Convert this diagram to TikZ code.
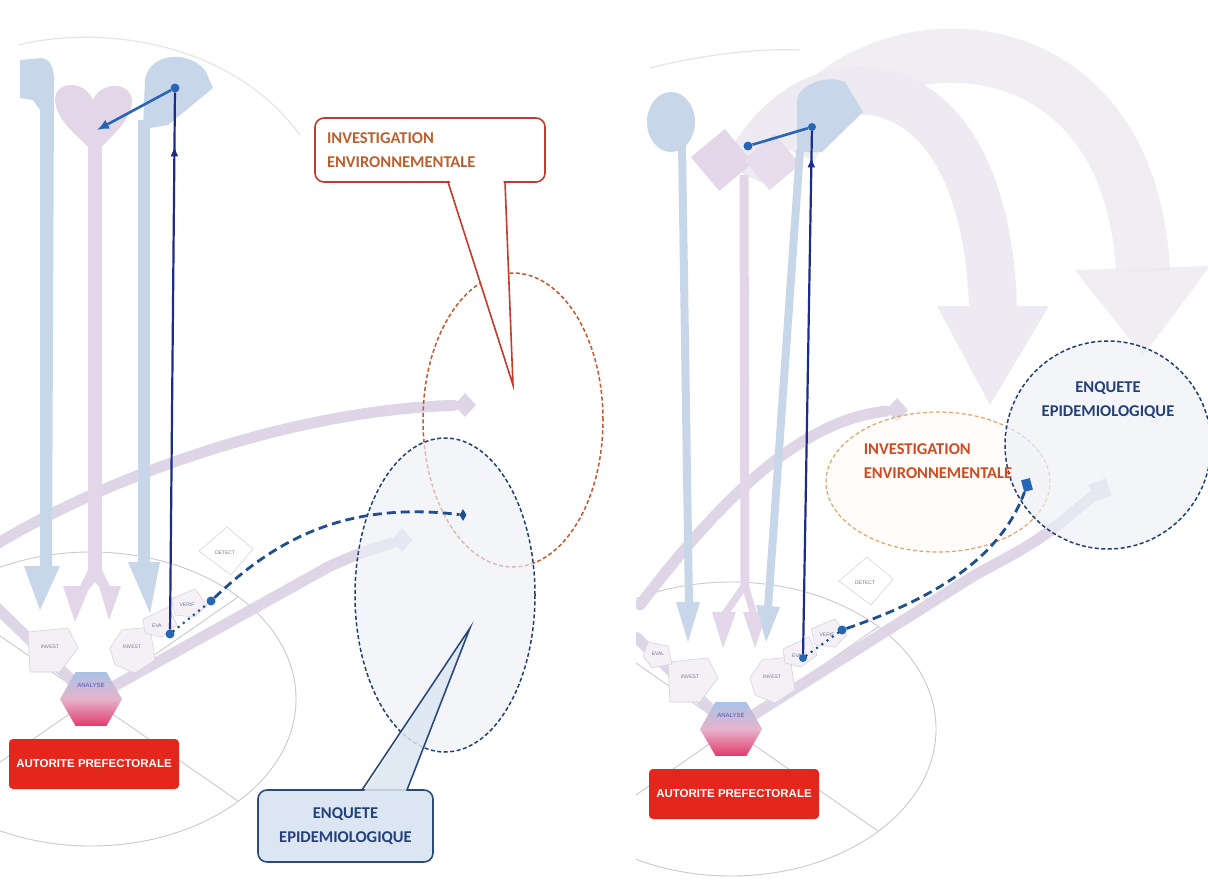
\documentclass[tikz,border=0pt]{standalone}
\usepackage{fontspec}
\setmainfont{Carlito}
\newfontfamily\arialf{Liberation Sans}
\usetikzlibrary{shapes.geometric,arrows.meta,calc,decorations.markings}
\definecolor{paleblue}{HTML}{C8D6EA}
\definecolor{palepink}{HTML}{E3D6E8}
\definecolor{bandpink}{HTML}{DED5E6}
\definecolor{bigarccol}{HTML}{EEEAF2}
\definecolor{tilefill}{HTML}{F4F0F6}
\definecolor{tileline}{HTML}{D8D2DF}
\definecolor{wheelgray}{HTML}{C9C9CE}
\definecolor{hexblue}{HTML}{A9C3E6}
\definecolor{hexpink}{HTML}{E6B3CC}
\definecolor{hexred}{HTML}{E23B6C}
\definecolor{redbox}{HTML}{E5261C}
\definecolor{navyline}{HTML}{1C2C8A}
\definecolor{dotblue}{HTML}{2766B4}
\definecolor{dashblue}{HTML}{1F4F8F}
\definecolor{orangedash}{HTML}{C8552C}
\definecolor{orangedashlight}{HTML}{E0A46E}
\definecolor{bluedash}{HTML}{22406F}
\definecolor{calloutred}{HTML}{C53A2A}
\definecolor{calloutblue}{HTML}{2C4B7D}
\definecolor{calloutfill}{HTML}{DCE6F2}
\definecolor{textorange}{HTML}{BE5F2E}
\definecolor{textorangeb}{HTML}{D24A1F}
\definecolor{textblue}{HTML}{23407A}
\definecolor{ellfill}{HTML}{EDF1F7}
\definecolor{labelgray}{HTML}{6F7590}

\newcommand\wheelback[3]{%
\begin{scope}[shift={(#2,#3)}]
\node[wheelell] (#1wh) at (0,0) {};
\coordinate (#1c) at (0,0);
\coordinate (#1ne) at (147,-102);
\coordinate (#1se) at (147,102);
\coordinate (#1sw) at (-147,102);
\coordinate (#1nw) at (-147,-102);
\draw[wheelline] (#1nw) -- (#1se);
\draw[wheelline] (#1ne) -- (#1sw);
\coordinate (#1ul) at (-95,-92);
\draw[paleband] (#1c) -- (#1ul);
\end{scope}}

\newcommand\wheelfront[3]{%
\begin{scope}[shift={(#2,#3)}]
\draw[tileshape] (-63,-67) -- (-23,-71) -- (-13,-51) -- (-31,-27) -- (-61,-27) -- cycle;
\node[tinylabel] (#1inva) at (-41,-52) {INVEST};
\draw[tileshape] (19,-51) -- (31,-69) -- (59,-72) -- (64,-39) -- (44,-26) -- (24,-34) -- cycle;
\node[tinylabel] (#1invb) at (41,-52) {INVEST};
\draw[tileshape] (52,-80) -- (78,-92) -- (86,-74) -- (70,-62) -- (54,-66) -- cycle;
\node[tinylabel] (#1eva) at (66,-73) {EVA};
\draw[tileshape] (80,-100) -- (104,-110) -- (116,-94) -- (104,-82) -- (84,-84) -- cycle;
\node[tinylabel] (#1ver) at (96,-94) {VERIF};
\draw[tileshape, fill=white] (108,-148) -- (136,-172) -- (162,-150) -- (140,-124) -- cycle;
\node[tinylabel] (#1det) at (134,-146) {DETECT};
\node[hexa] (#1hex) at (0,0) {};
\node[anlabel] (#1anl) at (0,-14) {ANALYSE};
\node[autorite] (#1aut) at (3,65) {AUTORITE PREFECTORALE};
\end{scope}}

\begin{document}
\begin{tikzpicture}[x=1pt,y=-1pt,
  wheelell/.style={ellipse, draw=wheelgray, line width=0.9pt, minimum width=410pt, minimum height=294pt, inner sep=0pt},
  wheelline/.style={draw=wheelgray, line width=0.9pt},
  paleband/.style={draw=bandpink, line width=11pt, line cap=round},
  tileshape/.style={fill=tilefill, draw=tileline, line width=0.6pt},
  tinylabel/.style={font=\arialf\fontsize{5}{6}\selectfont, text=labelgray, inner sep=0pt},
  anlabel/.style={font=\arialf\fontsize{6}{7}\selectfont, text=labelgray!70!blue, inner sep=0pt},
  hexa/.style={regular polygon, regular polygon sides=6, minimum size=62pt, inner sep=0pt, top color=hexblue, bottom color=hexred, middle color=hexpink},
  autorite/.style={rectangle, rounded corners=4pt, fill=redbox, text=white, font=\arialf\bfseries\fontsize{11.5}{13}\selectfont, minimum width=170pt, minimum height=50pt, inner sep=0pt},
  navyl/.style={draw=navyline, line width=2.2pt},
  navyarrow/.style={navyl, postaction={decorate}, decoration={markings, mark=at position #1 with {\arrow{Latex[length=10pt,width=8pt]}}}},
  blueseg/.style={draw=dotblue, line width=2.6pt},
  dotnode/.style={circle, fill=dotblue, inner sep=0pt, minimum size=9pt},
  dotline/.style={draw=dashblue, line width=3pt, line cap=round, dash pattern=on 0pt off 6.5pt},
  dashline/.style={draw=dashblue, line width=2.8pt, dash pattern=on 9pt off 5pt},
  envell/.style={ellipse, draw=orangedash, line width=1.5pt, dash pattern=on 4pt off 2.5pt, inner sep=0pt},
  epiell/.style={ellipse, draw=bluedash, line width=1.5pt, dash pattern=on 4pt off 2.5pt, inner sep=0pt, fill=ellfill, fill opacity=0.65},
  calltext/.style={font=\bfseries\fontsize{16.5}{24}\selectfont},
  rcallout/.style={calltext, draw=calloutred, line width=1.6pt, rounded corners=9pt, fill=white, text width=206pt, align=left, minimum height=64pt, inner xsep=12pt, text=textorange},
  bcallout/.style={calltext, draw=calloutblue, line width=1.6pt, rounded corners=9pt, fill=calloutfill, align=center, minimum width=175pt, minimum height=72pt, text=textblue},
  pinkhead/.style={diamond, fill=bandpink, inner sep=0pt, minimum width=22pt, minimum height=24pt}
]
\useasboundingbox[fill=white] (0,0) rectangle (1208,881);

% ================= LEFT PANEL =================
\draw[gray!20, line width=1.2pt] (18,45) .. controls (100,25) and (230,40) .. (300,135);
\wheelback{L}{91}{699}

\node[pinkhead] (Ld1) at (465,405) {};
\coordinate (Lp1s) at (-5,545);
\draw[paleband] (Lp1s) .. controls (120,470) and (300,410) .. (Ld1);
\node[pinkhead] (Ld2) at (402,540) {};
\coordinate (Lp2m) at (330,566);
\draw[paleband] (Lc) -- (Lp2m) .. controls (360,553) .. (Ld2);

% columns
\fill[paleblue] (20,60) -- (42,58) .. controls (52,60) and (55,70) .. (54,90) -- (52,570) -- (40,570) -- (40,110) -- (33,100) -- (20,98) -- cycle;
\fill[paleblue] (24,566) -- (60,566) -- (40,610) -- cycle;
\fill[palepink] (55,100) .. controls (55,80) and (85,80) .. (93,100) .. controls (101,80) and (133,82) .. (132,102) .. controls (130,125) and (105,140) .. (95,155) .. controls (85,140) and (57,125) .. (55,100) -- cycle;
\fill[palepink] (88,140) rectangle (102,575);
\fill[palepink] (88,570) -- (102,570) -- (112,590) -- (104,592) -- (95,582) -- (86,592) -- (78,590) -- cycle;
\fill[palepink] (63,586) -- (90,586) -- (75,622) -- cycle;
\fill[palepink] (99,586) -- (121,586) -- (109,620) -- cycle;
\fill[paleblue] (143,128) -- (145,80) .. controls (148,55) and (185,48) .. (205,70) -- (213,88) -- (168,125) -- (150,128) -- cycle;
\fill[paleblue] (138,120) rectangle (150,565);
\fill[paleblue] (128,562) -- (160,562) -- (150,613) -- cycle;

\wheelfront{L}{91}{699}

\node[envell, minimum width=180pt, minimum height=294pt] (Lenv) at (513,420) {};
\node[epiell, minimum width=180pt, minimum height=314pt] (Lepi) at (445,595) {};

\node[rcallout] (Lrc) at (430,150) {INVESTIGATION\\ENVIRONNEMENTALE};
\coordinate (Lrb1) at (448,182);
\coordinate (Lrb2) at (505,182);
\coordinate (Lrtip) at (513,385);
\fill[white] ($(Lrb1)+(1.5,-2)$) -- (Lrtip) -- ($(Lrb2)+(-1.5,-2)$) -- cycle;
\draw[calloutred, line width=1.6pt] (Lrb1) -- (Lrtip) -- (Lrb2);

\node[bcallout] (Lbc) at (345.5,826) {ENQUETE\\EPIDEMIOLOGIQUE};
\coordinate (Lbb1) at (362,790);
\coordinate (Lbb2) at (407,790);
\coordinate (Lbtip) at (470,628);
\fill[calloutfill, fill opacity=0.85] ($(Lbb1)+(1.5,2)$) -- (Lbtip) -- ($(Lbb2)+(-1.5,2)$) -- cycle;
\draw[calloutblue, line width=1.6pt] (Lbb1) -- (Lbtip) -- (Lbb2);

\node[dotnode] (Leval) at (170,634) {};
\node[dotnode] (Ltop) at (175,88) {};
\node[dotnode] (Lverif) at (211,601) {};
\node[diamond, fill=dashblue, inner sep=0pt, minimum width=7pt, minimum height=12pt] (Lend) at (463,515) {};
\coordinate (Lah) at (97,130);
\draw[navyarrow=0.9] (Leval) -- (Ltop);
\draw[blueseg, -{Latex[length=12pt,width=10pt]}] (Ltop) -- (Lah);
\draw[dotline] (Leval) -- (Lverif);
\draw[dashline] (Lverif) .. controls (270,545) and (340,500) .. (Lend);

% ================= RIGHT PANEL =================
\begin{scope}
\clip (636,0) rectangle (1208,881);
\draw[draw=bigarccol, line width=48pt] (745,175) .. controls (800,50) and (985,40) .. (993,308);
\fill[bigarccol] (937,306) -- (1049,306) -- (990,405) -- cycle;
\draw[draw=bigarccol, line width=54pt, opacity=0.85] (790,150) .. controls (850,15) and (1130,0) .. (1143,272);
\fill[bigarccol, opacity=0.85] (1075,270) -- (1210,266) -- (1143,356) -- cycle;
\draw[gray!20, line width=1.2pt] (650,68) .. controls (700,55) and (760,48) .. (800,50);

\wheelback{R}{731}{729}

\node[pinkhead] (Rd3) at (897,410) {};
\coordinate (Rp3s) at (640,605);
\draw[paleband] (Rp3s) .. controls (720,500) and (800,420) .. (Rd3);
\node[rectangle, fill=bandpink, minimum size=18pt, inner sep=0pt, rotate=20] (Rd4) at (1100,490) {};
\coordinate (Rp4m) at (975,575);
\draw[paleband] (Rc) -- (Rp4m) .. controls (1040,540) .. (Rd4);

\fill[paleblue] (671,122) ellipse [x radius=24pt, y radius=30pt];
\draw[paleblue, line width=8pt] (682,145) -- (689,605);
\fill[paleblue] (676,602) -- (700,602) -- (688,642) -- cycle;
\fill[palepink, rotate around={40:(722,160)}] (700,138) rectangle (744,182);
\fill[palepink!85, rotate around={40:(772,162)}] (752,142) rectangle (792,182);
\draw[palepink, line width=9pt] (744,175) -- (745,590);
\draw[palepink, line width=7pt] (745,585) -- (724,615);
\draw[palepink, line width=7pt] (745,585) -- (754,615);
\fill[palepink] (712,612) -- (736,612) -- (723,648) -- cycle;
\fill[palepink] (743,612) -- (767,612) -- (755,648) -- cycle;
\fill[paleblue] (797,100) .. controls (800,82) and (830,75) .. (845,82) -- (863,112) -- (822,152) -- (797,152) -- cycle;
\draw[paleblue, line width=8pt] (800,150) -- (768,608);
\fill[paleblue] (756,605) -- (780,607) -- (766,642) -- cycle;

\wheelfront{R}{731}{729}
\draw[tileshape] (648,642) -- (668,646) -- (672,664) -- (652,668) -- (643,656) -- cycle;
\node[tinylabel] (Revb) at (658,654) {EVAL};

\node[ellipse, draw=orangedashlight, line width=1.2pt, dash pattern=on 4pt off 2.5pt, fill=orange!3, fill opacity=0.6, minimum width=224pt, minimum height=140pt, inner sep=0pt] (Renv) at (938,482) {};
\node[epiell, minimum width=206pt, minimum height=208pt] (Repi) at (1108,445) {};
\node[calltext, text=textblue, align=center] (Rept) at (1108,400) {ENQUETE\\EPIDEMIOLOGIQUE};
\node[calltext, text=textorangeb, align=left] (Renvt) at (938,461) {INVESTIGATION\\ENVIRONNEMENTALE};

\node[dotnode, minimum size=8pt] (Reval) at (803,658) {};
\node[dotnode, minimum size=8pt] (Rtop) at (812,127) {};
\node[dotnode, minimum size=9pt] (Rleft) at (748,146) {};
\node[dotnode, minimum size=9pt] (Rverif) at (842,630) {};
\node[rectangle, fill=dotblue, inner sep=0pt, minimum width=9pt, minimum height=12pt, rotate=15] (Rend) at (1027,485) {};
\draw[navyarrow=0.95] (Reval) -- (Rtop);
\draw[blueseg] (Rtop) -- (Rleft);
\draw[dotline] (Reval) -- (Rverif);
\draw[dashline] (Rverif) .. controls (930,600) and (1000,560) .. (Rend);
\end{scope}
\end{tikzpicture}
\end{document}
